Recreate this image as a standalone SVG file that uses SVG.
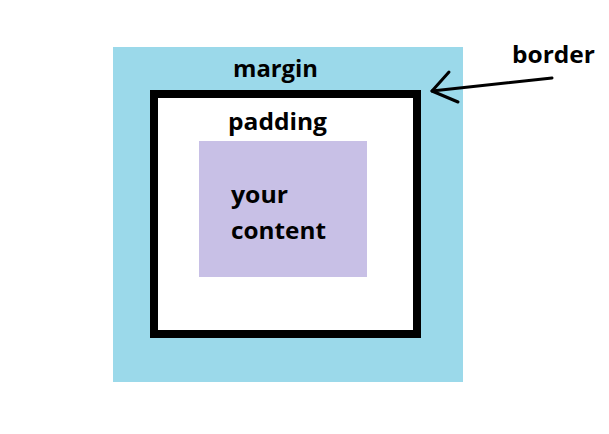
<svg xmlns="http://www.w3.org/2000/svg" width="609" height="434" viewBox="0 0 609 434">
<style>
.t{font-family:"Open Sans","Liberation Sans",sans-serif;font-weight:bold;font-size:24px;fill:#000}
</style>
<rect width="609" height="434" fill="#fff"/>
<g id="margin">
<rect x="113" y="47" width="350" height="335" fill="#9BD9EA"/>
<text class="t" x="233" y="77" textLength="85" lengthAdjust="spacingAndGlyphs">margin</text>
</g>
<g id="border-box">
<rect x="154" y="94" width="263" height="240" fill="#fff" stroke="#000" stroke-width="8"/>
</g>
<g id="padding">
<text class="t" x="228" y="130" textLength="99" lengthAdjust="spacingAndGlyphs">padding</text>
</g>
<g id="content">
<rect x="199" y="141" width="168" height="136" fill="#C8C0E6"/>
<text class="t" x="231" y="203" textLength="57" lengthAdjust="spacingAndGlyphs">your</text>
<text class="t" x="231" y="239" textLength="95" lengthAdjust="spacingAndGlyphs">content</text>
</g>
<g id="border-label">
<text class="t" x="512" y="63" textLength="83" lengthAdjust="spacingAndGlyphs">border</text>
</g>
<g id="connectors" fill="none" stroke="#000" stroke-width="3" stroke-linecap="round" stroke-linejoin="round">
<path d="M552 78 L432 91"/>
<path d="M449 72 L432 91 L458 102"/>
</g>
</svg>
